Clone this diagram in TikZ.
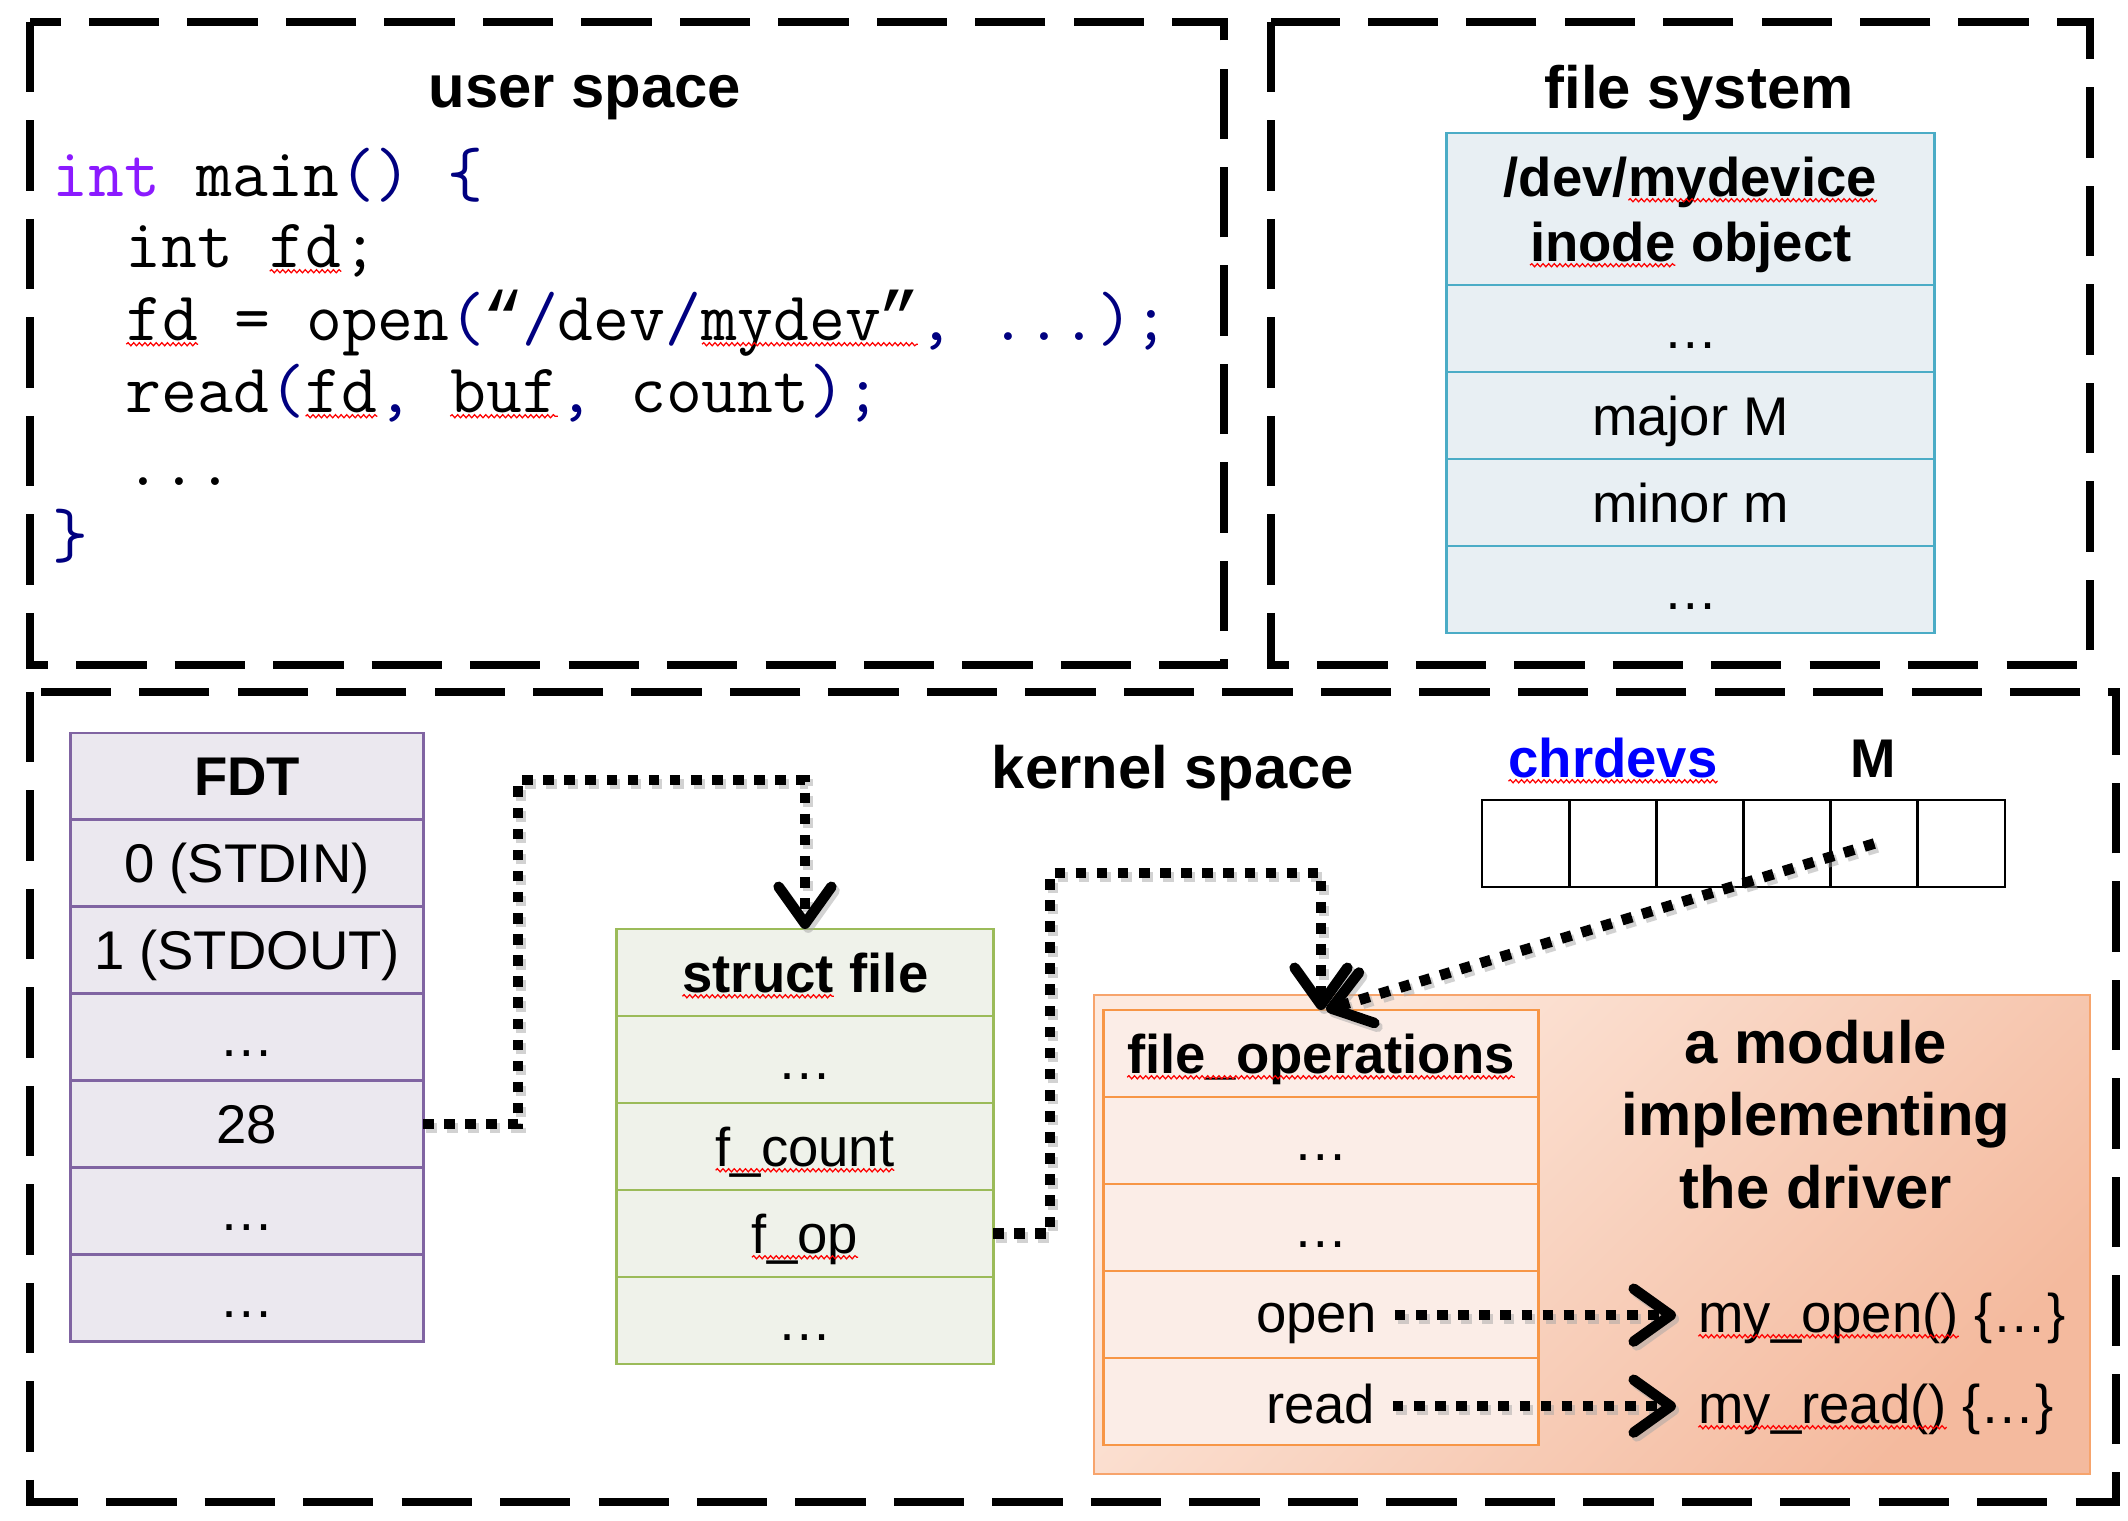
\documentclass[tikz,border=0pt]{standalone}
\usepackage{fontspec}
\setmainfont{Liberation Sans}
\newfontfamily\lmono{Liberation Mono}
\usetikzlibrary{arrows.meta,decorations.pathmorphing}
\definecolor{fdtline}{HTML}{8064A2}
\definecolor{fdtfill}{HTML}{EBE8EF}
\definecolor{sfline}{HTML}{9BBB59}
\definecolor{sffill}{HTML}{EFF2EA}
\definecolor{inoline}{HTML}{4BACC6}
\definecolor{inofill}{HTML}{E8EFF3}
\definecolor{foline}{HTML}{F79646}
\definecolor{fofill}{HTML}{FBEDE7}
\definecolor{modline}{HTML}{F7A46C}
\definecolor{modlight}{HTML}{FDEADF}
\definecolor{moddark}{HTML}{F4BA9E}
\definecolor{linkblue}{HTML}{0000FF}
\definecolor{kwpurple}{HTML}{8B1AFF}
\definecolor{codenavy}{HTML}{000080}
\newcommand\regf{\fontsize{15.5}{18.6}\selectfont}
\newcommand\hdrf{\fontsize{15.5}{18.6}\selectfont\bfseries}
\newcommand\bldf{\fontsize{17}{20.4}\selectfont\bfseries}
\newcommand\codef{\fontsize{19.8}{23.8}\selectfont\ttfamily}
\newcommand\squig[1]{\tikz[baseline=(sqw.base)]{\node[anchor=base,inner sep=0pt,outer sep=0pt,draw=none,fill=none,minimum width=0pt,minimum height=0pt,text height=,text depth=](sqw){#1};\draw[red,line width=0.35pt,decorate,decoration={snake,amplitude=0.45pt,segment length=1.6pt}]([yshift=-1.2pt]sqw.base west)--([yshift=-1.2pt]sqw.base east);}}
\newcommand\nv[1]{{\color{codenavy}#1}}
\newcommand\cq[1]{\makebox[0.525em][c]{\lmono #1}}
\tikzset{
  regionbox/.style={draw=black,line width=2.3pt,dash pattern=on 20pt off 8pt},
  cellbase/.style={line width=0.8pt,inner sep=0pt,outer sep=0pt,text height=11.1pt,text depth=0pt,font=\regf},
  fdt/.style={cellbase,draw=fdtline,fill=fdtfill,minimum width=3.52cm,minimum height=0.869cm},
  sfc/.style={cellbase,draw=sfline,fill=sffill,minimum width=3.76cm,minimum height=0.87cm},
  inoc/.style={cellbase,draw=inoline,fill=inofill,minimum width=4.87cm,minimum height=0.87cm},
  foc/.style={cellbase,draw=foline,fill=fofill,minimum width=4.34cm,minimum height=0.87cm},
  chc/.style={draw=black,fill=white,line width=0.8pt,inner sep=0pt,outer sep=0pt,minimum width=0.8717cm,minimum height=0.87cm},
  title/.style={font=\bldf,anchor=base,inner sep=0pt},
  hdr/.style={font=\hdrf,anchor=base,inner sep=0pt},
  lbl/.style={font=\regf,inner sep=0pt},
  codeline/.style={font=\codef,anchor=base west,inner sep=0pt},
  ptr/.style={draw=black,line width=3pt,dash pattern=on 3pt off 3pt,-{Straight Barb[length=10.5pt,width=15pt,line width=3pt,round]}},
  ptrshadow/.style={ptr,draw=black!35,opacity=0.5,transform canvas={xshift=0.9pt,yshift=-1.1pt}}
}
\newcommand\ptrpath[1]{\draw[ptrshadow] #1; \draw[ptr] #1;}
\begin{document}
\begin{tikzpicture}[x=0.01cm,y=-0.01cm]
\useasboundingbox (0,0) rectangle (2128,1520);
\fill[white] (0,0) rectangle (2128,1520);
% regions
\draw[regionbox] (30,22) rectangle (1224,665);
\draw[regionbox] (1271,22) rectangle (2090,665);
\draw[regionbox] (30,692) rectangle (2116,1502);
% titles
\node[title] (usertitle) at (585,107) {user space};
\node[title] (fstitle) at (1699,108) {file system};
\node[title] (ktitle) at (1173,788) {kernel space};
% code
\node[codeline] (l1) at (52,196) {{\color{kwpurple}int} main\nv{()} \nv{\{}};
\node[codeline] (l2) at (125,267) {int \squig{fd};};
\node[codeline] (l3) at (125,340) {\squig{fd} = open\nv{(}\cq{“}\nv{/}dev\nv{/}\squig{mydev\cq{”}}\nv{,} \nv{...);}};
\node[codeline] (l4) at (125,412) {read\nv{(}\squig{fd}\nv{,} \squig{buf}\nv{,} count\nv{);}};
\node[codeline] (l5) at (125,485) {...};
\node[codeline] (l6) at (52,557) {\nv{\}}};
% inode table
\node[inoc,minimum height=1.52cm] (inh) at (1690.5,209) {};
\node[hdr] (inh1) at (1690.5,196) {/dev/\squig{mydevice}};
\node[hdr] (inh2) at (1690.5,261) {\squig{inode} object};
\node[inoc] (in1) at (1690.5,328.5) {…};
\node[inoc] (in2) at (1690.5,415.5) {major M};
\node[inoc] (in3) at (1690.5,502.5) {minor m};
\node[inoc] (in4) at (1690.5,589.5) {…};
% FDT
\node[fdt,font=\hdrf] (fdth) at (247,776.45) {FDT};
\node[fdt] (f0) at (247,863.35) {0 (STDIN)};
\node[fdt] (f1) at (247,950.25) {1 (STDOUT)};
\node[fdt] (f2) at (247,1037.15) {…};
\node[fdt] (f28) at (247,1124.05) {28};
\node[fdt] (f5) at (247,1210.95) {…};
\node[fdt] (f6) at (247,1297.85) {…};
% struct file
\node[sfc,font=\hdrf] (sfh) at (805,972.5) {\squig{struct} file};
\node[sfc] (sf1) at (805,1059.5) {…};
\node[sfc] (sfcount) at (805,1146.5) {\squig{f\_count}};
\node[sfc] (sfop) at (805,1233.5) {\squig{f\_op}};
\node[sfc] (sf4) at (805,1320.5) {…};
% chrdevs
\node[chc] (c1) at (1525.6,843.5) {};
\node[chc] (c2) at (1612.8,843.5) {};
\node[chc] (c3) at (1699.9,843.5) {};
\node[chc] (c4) at (1787.1,843.5) {};
\node[chc] (c5) at (1874.3,843.5) {};
\node[chc] (c6) at (1961.4,843.5) {};
\node[hdr,text=linkblue] (chlbl) at (1613,777) {\squig{chrdevs}};
\node[hdr] (mlbl) at (1873,777) {M};
% module
\shade[top color=modlight,bottom color=moddark,shading angle=45] (1094,995) rectangle (2090,1474);
\draw[modline,line width=0.7pt] (1094,995) rectangle (2090,1474);
\node[title] (mod1) at (1816,1063) {a module};
\node[title] (mod2) at (1816,1135) {implementing};
\node[title] (mod3) at (1816,1208) {the driver};
% file_operations
\node[foc,font=\hdrf] (foh) at (1321,1053.5) {\squig{file\_operations}};
\node[foc] (fo1) at (1321,1140.5) {…};
\node[foc] (fo2) at (1321,1227.5) {…};
\node[foc] (fo3) at (1321,1314.5) {};
\node[foc] (fo4) at (1321,1401.5) {};
\node[lbl,anchor=base east] (openl) at (1378,1332) {open};
\node[lbl,anchor=base east] (readl) at (1376,1423) {read};
\node[lbl,anchor=base west] (myopen) at (1697,1332) {\squig{my\_open()} \{…\}};
\node[lbl,anchor=base west] (myread) at (1697,1423) {\squig{my\_read()} \{…\}};
% pointers
\coordinate (a1) at (518,780);
\coordinate (a2) at (1050,873);
\ptrpath{(f28.east) -| (a1) -| (sfh.north)}
\ptrpath{(sfop.east) -| (a2) -| (foh.north)}
\ptrpath{(c5.center) -- ([xshift=1.5pt]foh.north)}
\ptrpath{([xshift=4.8pt,yshift=4.8pt]openl.base east) -- ([xshift=-6pt,yshift=4.8pt]myopen.base west)}
\ptrpath{([xshift=4.8pt,yshift=4.8pt]readl.base east) -- ([xshift=-6pt,yshift=4.8pt]myread.base west)}
\end{tikzpicture}
\end{document}
